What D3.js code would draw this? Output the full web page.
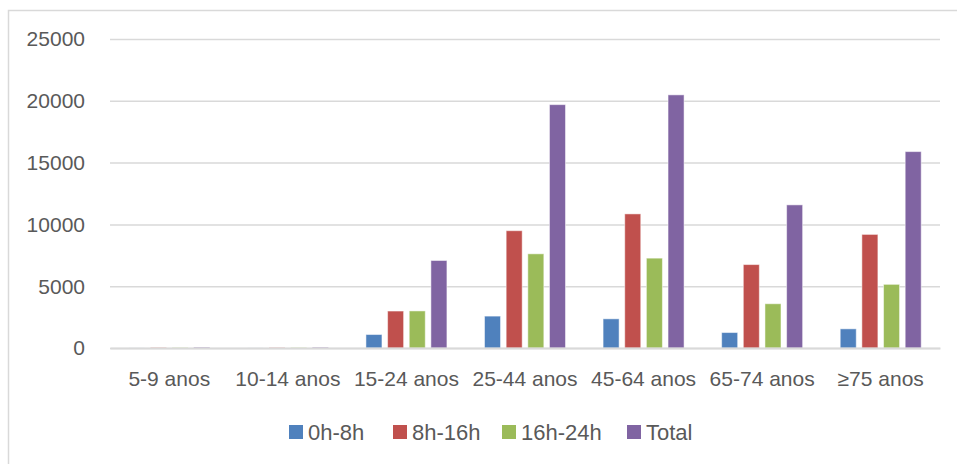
<!DOCTYPE html>
<html>
<head>
<meta charset="utf-8">
<script src="https://cdn.jsdelivr.net/npm/d3@7"></script>
<style>
	body { margin: 0; background: #fff; }
	svg text { font-family: "Liberation Sans", Arial, sans-serif; fill: #595959; }
</style>
</head>
<body>
<svg id="svg_chart" width="957" height="464"></svg>
<script>
// categories, series and values
var categories = ["5-9 anos", "10-14 anos", "15-24 anos", "25-44 anos", "45-64 anos", "65-74 anos", "\u226575 anos"];
var series = ["0h-8h", "8h-16h", "16h-24h", "Total"];
var colors = ["#4F81BD", "#C0504D", "#9BBB59", "#8064A2"];

var v_0h_8h   = [5, 5, 1090, 2580, 2360, 1250, 1550];
var v_8h_16h  = [35, 30, 2990, 9490, 10850, 6750, 9190];
var v_16h_24h = [30, 30, 3000, 7620, 7270, 3580, 5150];
var v_total   = [70, 65, 7080, 19690, 20480, 11580, 15890];

var y_ticks = [0, 5000, 10000, 15000, 20000, 25000];

var values = [v_0h_8h, v_8h_16h, v_16h_24h, v_total];

var svg = d3.select("svg#svg_chart");
var margin = {top: 39, right: 17, bottom: 116, left: 110};
var width = +svg.attr("width") - margin.left - margin.right;
var height = +svg.attr("height") - margin.top - margin.bottom;

// chart border
svg.append("rect")
	.attr("x", 8.5).attr("y", 10.5)
	.attr("width", 960).attr("height", 470)
	.attr("fill", "none")
	.attr("stroke", "#d9d9d9")
	.attr("stroke-width", 1.5);

var g = svg.append("g")
	.attr("transform", "translate(" + margin.left + "," + margin.top + ")");

var x0 = d3.scaleBand().domain(categories).range([0, width])
	.paddingInner(0.317).paddingOuter(0.1585);
var x1 = d3.scaleBand().domain(series).range([0, x0.bandwidth()])
	.paddingInner(0.26);
var y = d3.scaleLinear().domain([0, 25000]).range([height, 0]);

// gridlines
var yAxis = d3.axisLeft(y).tickValues(y_ticks).tickSize(-width).tickFormat("");
var grid = g.append("g").attr("class", "grid").call(yAxis);
grid.select(".domain").remove();
grid.selectAll(".tick line").attr("stroke", "#d9d9d9").attr("stroke-width", 1.5);

// y labels
g.append("g").selectAll("text")
	.data(y_ticks)
	.enter().append("text")
	.attr("x", -25)
	.attr("y", function(d) { return y(d); })
	.attr("dy", "0.35em")
	.attr("text-anchor", "end")
	.style("font-size", "21px")
	.text(function(d) { return d; });

// bars
var rows = [];
for (var i = 0; i < categories.length; i++) {
	for (var s = 0; s < series.length; s++) {
		rows.push({cat: categories[i], ser: series[s], idx: s, val: values[s][i]});
	}
}
g.append("g").selectAll("rect")
	.data(rows)
	.enter().append("rect")
	.attr("x", function(d) { return x0(d.cat) + x1(d.ser); })
	.attr("y", function(d) { return y(d.val); })
	.attr("width", x1.bandwidth())
	.attr("height", function(d) { return height - y(d.val); })
	.attr("fill", function(d) { return colors[d.idx]; })
	.attr("stroke", "#fff")
	.attr("stroke-opacity", 0.5)
	.attr("stroke-width", 1);

// x axis
var xAxis = d3.axisBottom(x0).tickSize(0).tickPadding(23);
var gx = g.append("g")
	.attr("transform", "translate(0," + height + ")")
	.call(xAxis);
gx.select(".domain").attr("stroke", "#d9d9d9").attr("stroke-width", 2);
gx.selectAll("text").style("font-size", "21px").attr("fill", "#595959").attr("font-family", null);

// legend
var legend_x = [289, 393, 502, 627];
var lg = svg.append("g").selectAll("g")
	.data(series)
	.enter().append("g")
	.attr("transform", function(d, i) { return "translate(" + legend_x[i] + ",425)"; });
lg.append("rect").attr("width", 14).attr("height", 14)
	.attr("fill", function(d, i) { return colors[i]; });
lg.append("text").attr("x", 19).attr("y", 7).attr("dy", "0.36em")
	.style("font-size", "22px")
	.text(function(d) { return d; });
</script>
</body>
</html>
